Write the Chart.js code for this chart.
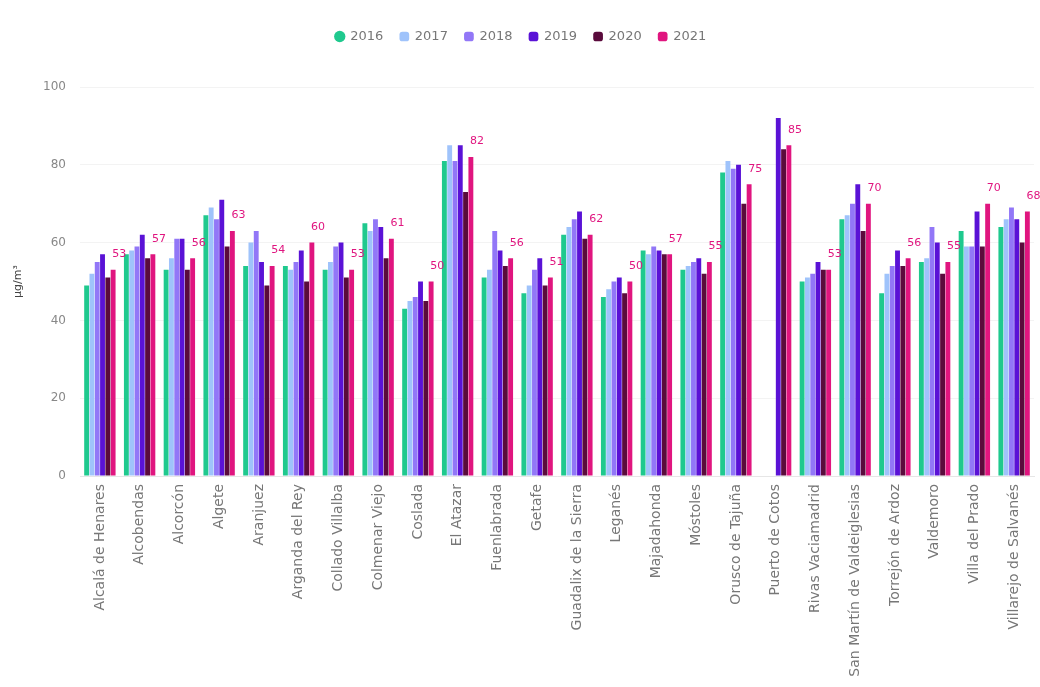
<!DOCTYPE html>
<html>
<head>
<meta charset="utf-8">
<script src="https://cdn.jsdelivr.net/npm/chart.js@4/dist/chart.umd.min.js"></script>
<style>
  html, body { margin: 0; padding: 0; background: #ffffff; }
  #wrap { width: 1040px; height: 687px; }
</style>
</head>
<body>
<div id="wrap"><canvas id="c" width="1040" height="687"></canvas></div>
<script>
// Estaciones de medida
const estaciones = [
  "Alcalá de Henares", "Alcobendas", "Alcorcón", "Algete", "Aranjuez",
  "Arganda del Rey", "Collado Villalba", "Colmenar Viejo", "Coslada", "El Atazar",
  "Fuenlabrada", "Getafe", "Guadalix de la Sierra", "Leganés", "Majadahonda",
  "Móstoles", "Orusco de Tajuña", "Puerto de Cotos", "Rivas Vaciamadrid",
  "San Martín de Valdeiglesias", "Torrejón de Ardoz", "Valdemoro",
  "Villa del Prado", "Villarejo de Salvanés"
];

// Valores por año (µg/m³)
const v2016 = [49, 57, 53, 67, 54, 54, 53, 65, 43, 81, 51, 47, 62, 46, 58, 53, 78, null, 50, 66, 47, 55, 63, 64];
const v2017 = [52, 58, 56, 69, 60, 53, 55, 63, 45, 85, 53, 49, 64, 48, 57, 54, 81, null, 51, 67, 52, 56, 59, 66];
const v2018 = [55, 59, 61, 66, 63, 55, 59, 66, 46, 81, 63, 53, 66, 50, 59, 55, 79, null, 52, 70, 54, 64, 59, 69];
const v2019 = [57, 62, 61, 71, 55, 58, 60, 64, 50, 85, 58, 56, 68, 51, 58, 56, 80, 92, 55, 75, 58, 60, 68, 66];
const v2020 = [51, 56, 53, 59, 49, 50, 51, 56, 45, 73, 54, 49, 61, 47, 57, 52, 70, 84, 53, 63, 54, 52, 59, 60];
const v2021 = [53, 57, 56, 63, 54, 60, 53, 61, 50, 82, 56, 51, 62, 50, 57, 55, 75, 85, 53, 70, 56, 55, 70, 68];

const anios = ["2016", "2017", "2018", "2019", "2020", "2021"];
const colores = ["#1fc98e", "#9fc3fb", "#9277f7", "#5a12d6", "#5a0b3c", "#e0157f"];
const ticksY = [0, 20, 40, 60, 80, 100];

const series = [v2016, v2017, v2018, v2019, v2020, v2021];

const fuente = "'DejaVu Sans', 'Open Sans', sans-serif";

// Etiquetas de valor sobre la serie 2021
const etiquetas2021 = {
  id: "etiquetas2021",
  afterDatasetsDraw(chart) {
    const ctx = chart.ctx;
    const meta = chart.getDatasetMeta(5);
    ctx.save();
    ctx.font = "11px " + fuente;
    ctx.fillStyle = "#e0157f";
    ctx.textAlign = "center";
    ctx.textBaseline = "bottom";
    meta.data.forEach((bar, i) => {
      const v = v2021[i];
      if (v == null) return;
      ctx.fillText(String(v), bar.x + 6, bar.y - 10);
    });
    ctx.restore();
  }
};

// Espacio extra bajo la leyenda
const margenLeyenda = {
  id: "margenLeyenda",
  beforeInit(chart) {
    const fitOriginal = chart.legend.fit;
    chart.legend.fit = function () {
      fitOriginal.bind(chart.legend)();
      this.height += 34;
    };
  }
};

new Chart(document.getElementById("c"), {
  type: "bar",
  data: {
    labels: estaciones,
    datasets: series.map((s, i) => ({
      label: anios[i],
      data: s,
      backgroundColor: colores[i],
      borderWidth: 0,
      barPercentage: 0.92,
      categoryPercentage: 0.8,
      pointStyle: i === 0 ? "circle" : "rectRounded"
    }))
  },
  options: {
    responsive: false,
    animation: false,
    layout: { padding: { left: 8, right: 6, top: 13, bottom: 4 } },
    plugins: {
      tooltip: { enabled: false },
      legend: {
        position: "top",
        labels: {
          boxWidth: 8,
          boxHeight: 8,
          usePointStyle: true,
          color: "#777",
          padding: 17,
          font: { family: fuente, size: 13 }
        }
      }
    },
    scales: {
      x: {
        grid: { display: false, drawTicks: false },
        border: { display: true, color: "#e6e6e6" },
        ticks: {
          autoSkip: false,
          minRotation: 90,
          maxRotation: 90,
          padding: 8,
          color: "#777",
          font: { family: fuente, size: 14 }
        },
        afterFit(scale) { scale.height = 207; }
      },
      y: {
        min: 0,
        max: 100,
        afterBuildTicks(scale) { scale.ticks = ticksY.map(v => ({ value: v })); },
        grid: { color: "#f3f3f3", drawTicks: false },
        border: { display: false },
        ticks: {
          padding: 14,
          color: "#888",
          font: { family: fuente, size: 12 }
        },
        title: {
          display: true,
          text: "µg/m³",
          color: "#444",
          font: { family: fuente, size: 11 }
        },
        afterFit(scale) { scale.width = 72; }
      }
    }
  },
  plugins: [etiquetas2021, margenLeyenda]
});
</script>
</body>
</html>
